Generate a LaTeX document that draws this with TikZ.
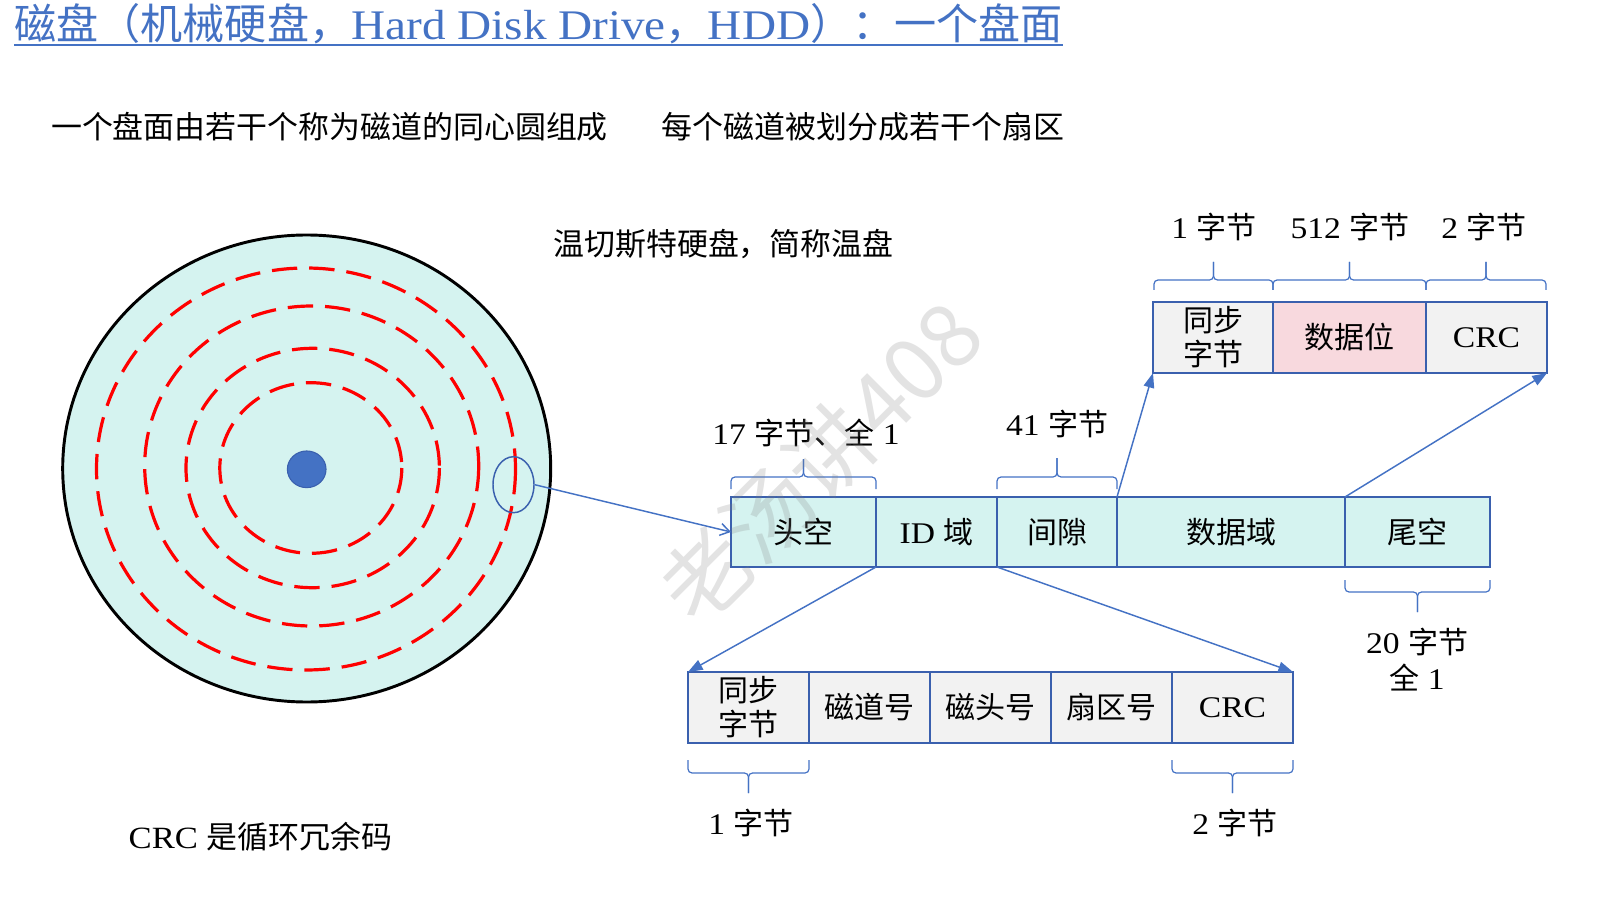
\documentclass[tikz,border=0pt]{standalone}
\usepackage{fontspec}
\setmainfont{Liberation Serif}[FakeStretch=1.12]
\newfontfamily\cjk{Noto Sans CJK SC}
\newcommand\zhs[1]{{\cjk #1}}
\usetikzlibrary{arrows.meta,shapes.geometric}
\definecolor{bl}{HTML}{4472C4}
\definecolor{bdr}{HTML}{3A60AE}
\definecolor{trk}{HTML}{D5F3F0}
\definecolor{lg}{HTML}{F2F2F2}
\definecolor{pk}{HTML}{F8D9DE}
\definecolor{dred}{HTML}{FF0000}
\tikzset{
  cell/.style={draw=bdr, line width=1.2pt, inner sep=0pt, outer sep=0pt, align=center,
    font=\fontsize{22.5}{25.5}\selectfont},
  txt/.style={inner sep=0pt, align=center, font=\fontsize{22.5}{27}\selectfont},
  subt/.style={inner sep=0pt, font=\fontsize{23.2}{27}\selectfont\cjk},
  conn/.style={draw=bl, line width=1.1pt},
  tri/.style={-{Triangle[length=11pt,width=8pt]}},
  brc/.style={draw=bl, line width=0.9pt, rounded corners=3pt},
  trackdash/.style={draw=dred, line width=2.4pt, dash pattern=on 19pt off 9pt},
}
\newcommand\mybrace[5]{%
  \draw[brc] (#1,#3) |- ({(#1+#2)/2},#4) -- ({(#1+#2)/2},#5);
  \draw[brc] (#2,#3) |- ({(#1+#2)/2},#4) -- ({(#1+#2)/2},#5);}
% name, x1, y1, x2, y2, fill, text
\newcommand\cellbox[7]{%
  \node[cell, fill=#6, minimum width={0.75pt*(#4-#2)}, minimum height={0.75pt*(#5-#3)}]
    (#1) at ({(#2+#4)/2},{(#3+#5)/2}) {#7};}
\begin{document}
\begin{tikzpicture}[x=0.75pt,y=-0.75pt]
\useasboundingbox (0,0) rectangle (1597,913);
% title
\node[anchor=west, inner sep=0pt, text=bl, font=\fontsize{31.6}{35}\selectfont] (title) at (14,24)
  {\zhs{磁盘（机械硬盘，}Hard Disk Drive\zhs{，}HDD\zhs{）：一个盘面}};
\coordinate (ul) at (0,45);
\draw[bl, line width=1.4pt] (title.west |- ul) -- (title.east |- ul);
% subtitles
\node[subt] (s1) at (329.5,127) {一个盘面由若干个称为磁道的同心圆组成};
\node[subt] (s2) at (863,127) {每个磁道被划分成若干个扇区};
\node[subt] (s3) at (723.5,244) {温切斯特硬盘，简称温盘};
\node[txt, font=\fontsize{23.2}{27}\selectfont] (s4) at (260.5,837) {CRC \zhs{是循环冗余码}};
% disk
\draw[black, line width=2.2pt, fill=trk] (306.7,468.5) ellipse [x radius=244, y radius=233.5];
\draw[trackdash] (306,469) ellipse [x radius=209.5, y radius=201];
\draw[trackdash] (311.7,466) ellipse [x radius=167, y radius=160];
\draw[trackdash] (312.7,468) ellipse [x radius=126.7, y radius=119.7];
\draw[trackdash] (310.8,468) ellipse [x radius=91, y radius=85.3];
\node[ellipse, fill=bl, draw=bdr, line width=0.8pt, minimum width=29pt, minimum height=27.5pt, inner sep=0pt] (dot) at (306.7,469.3) {};
\node[ellipse, draw=bdr, line width=1.1pt, minimum width=30.75pt, minimum height=42pt, inner sep=0pt] (sel) at (513.5,484.7) {};
% track
\cellbox{hk}{731}{497}{876}{567}{trk}{\zhs{头空}}
\cellbox{idf}{876}{497}{997}{567}{trk}{ID \zhs{域}}
\cellbox{gap}{997}{497}{1117}{567}{trk}{\zhs{间隙}}
\cellbox{dat}{1117}{497}{1345}{567}{trk}{\zhs{数据域}}
\cellbox{tail}{1345}{497}{1490}{567}{trk}{\zhs{尾空}}
% data sector
\cellbox{tsync}{1153}{302}{1273}{373}{lg}{\zhs{同步}\\\zhs{字节}}
\cellbox{tdata}{1273}{302}{1426}{373}{pk}{\zhs{数据位}}
\cellbox{tcrc}{1426}{302}{1547}{373}{lg}{CRC}
% id field
\cellbox{bsync}{688}{672}{809}{743}{lg}{\zhs{同步}\\\zhs{字节}}
\cellbox{btrk}{809}{672}{930}{743}{lg}{\zhs{磁道号}}
\cellbox{bhead}{930}{672}{1051}{743}{lg}{\zhs{磁头号}}
\cellbox{bsec}{1051}{672}{1172}{743}{lg}{\zhs{扇区号}}
\cellbox{bcrc}{1172}{672}{1293}{743}{lg}{CRC}
% connectors
\draw[conn, -{Straight Barb[length=7pt,width=9pt]}] (sel.east) -- (hk.west);
\draw[conn, tri] (gap.north east) -- (tsync.south west);
\draw[conn, tri] (dat.north east) -- (tcrc.south east);
\draw[conn, tri] (hk.south east) -- (bsync.north west);
\draw[conn, tri] (gap.south west) -- (bcrc.north east);
% braces
\mybrace{731}{876}{489}{477}{459}
\mybrace{997}{1117}{489}{477}{458}
\mybrace{1154}{1273}{290}{280}{262}
\mybrace{1273}{1426}{290}{280}{262}
\mybrace{1426}{1546}{290}{280}{262}
\mybrace{1345}{1490}{580}{592}{612}
\mybrace{688}{809}{760}{773}{793}
\mybrace{1172}{1293}{760}{773}{793}
% labels
\node[txt] (l17) at (806,433) {17 \zhs{字节、全} 1};
\node[txt] (l41) at (1057,424) {41 \zhs{字节}};
\node[txt] (lt1) at (1214,227) {1 \zhs{字节}};
\node[txt] (lt2) at (1350,227) {512 \zhs{字节}};
\node[txt] (lt3) at (1484,227) {2 \zhs{字节}};
\node[txt] (l20) at (1417,660) {20 \zhs{字节}\\\zhs{全} 1};
\node[txt] (lb1) at (751,823) {1 \zhs{字节}};
\node[txt] (lb2) at (1235,823) {2 \zhs{字节}};
% watermark
\node[rotate=45, text=gray, text opacity=0.22, inner sep=0pt, font=\fontsize{66}{70}\selectfont\cjk] (wm) at (820,462) {老汤讲408};
\end{tikzpicture}
\end{document}
